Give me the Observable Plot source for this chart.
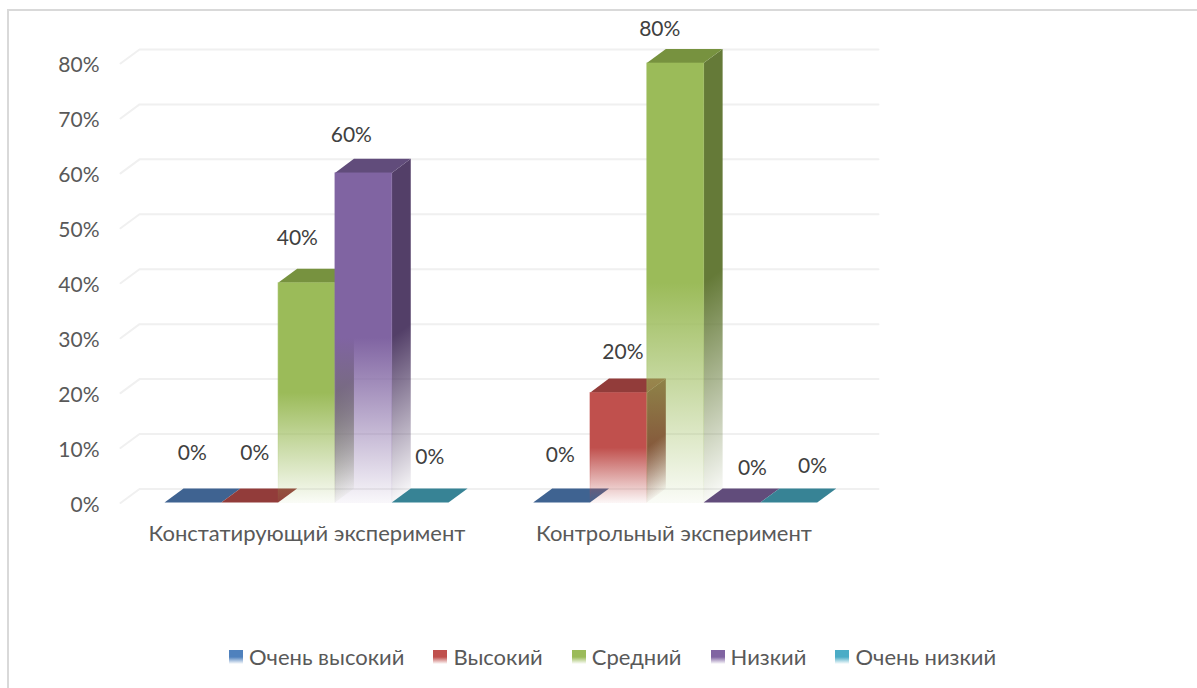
<!DOCTYPE html>
<html><head><meta charset="utf-8">
<script src="https://cdn.jsdelivr.net/npm/d3@7"></script>
<script src="https://cdn.jsdelivr.net/npm/@observablehq/plot@0.6"></script>
<style>
html,body{margin:0;padding:0;background:#fff;overflow:hidden}
#frame{position:absolute;left:7px;top:9px;width:1300px;height:800px;border:2px solid #d9d9d9;box-sizing:border-box;pointer-events:none}
#chart{position:absolute;left:0;top:0}
#legend{position:absolute;left:229px;top:644px;display:flex;font:22px Lato,"Open Sans",sans-serif;color:#595959;line-height:26px;white-space:nowrap}
#legend .item{display:flex;align-items:center}
#legend i{display:block;width:14px;height:14px;margin-right:6px}
</style></head><body>
<div id="chart"></div><div id="frame"></div><div id="legend"></div>
<script>
const categories = ["Констатирующий эксперимент", "Контрольный эксперимент"];
const levels = ["Очень высокий", "Высокий", "Средний", "Низкий", "Очень низкий"];
const constatingValues = [0, 0, 40, 60, 0];
const controlValues = [0, 20, 80, 0, 0];
const yTicks = [0, 10, 20, 30, 40, 50, 60, 70, 80];

const frontColors = ["#4F81BD", "#C0504D", "#9BBB59", "#8064A2", "#4BACC6"];
const topColors = ["#3F6391", "#923C3A", "#77923F", "#614C7B", "#378395"];
const sideColors = ["#34537A", "#7D3230", "#657A38", "#533F68", "#2E6E7E"];

// layout, in scale units: one x unit is one bar width, y units are percent
const groupStart = [0, 6.49];
const depthX = 0.335, depthY = 2.55;
const labelFont = "Lato, 'Open Sans', sans-serif";
const labelNudge = [
  [[-0.02, 9.0], [0.08, 9.0], [-0.17, 8.2], [-0.22, 6.95], [0.16, 8.3]],
  [[-0.03, 8.65], [0.07, 7.4], [-0.28, 6.2], [0.35, 6.3], [0.41, 6.65]]
];
const categoryNudge = [0, -0.03];

const bars = [];
[constatingValues, controlValues].forEach((vals, g) => vals.forEach((v, i) => bars.push({
  g, i, v, level: levels[i], x1: groupStart[g] + i, x2: groupStart[g] + i + 1,
  lx: groupStart[g] + i + 0.5 + labelNudge[g][i][0], ly: v + labelNudge[g][i][1]
})));

const sidePts = bars.filter(b => b.v > 0).flatMap(b => [
  {b, x: b.x2, y1: 0, y2: b.v}, {b, x: b.x2 + depthX, y1: depthY, y2: b.v + depthY}]);
const topPts = bars.flatMap(b => [
  {b, y: b.v, x1: b.x1, x2: b.x2}, {b, y: b.v + depthY, x1: b.x1 + depthX, x2: b.x2 + depthX}]);
const gridPts = yTicks.flatMap(t => [
  {t, x: -0.783, y: t}, {t, x: -0.783 + depthX, y: t + depthY}, {t, x: 12.56, y: t + depthY}]);

const stops = color => `<stop offset="0" stop-color="${color}"/><stop offset="0.5" stop-color="${color}"/>
    <stop offset="1" stop-color="${color}" stop-opacity="0.05"/>`;
function frontGradient(id, color) {
  return `<linearGradient id="${id}" x1="0" y1="0" x2="0" y2="1">${stops(color)}</linearGradient>`;
}
// the side face is sheared, so its fade follows the same shear
function sideGradient(id, color, v) {
  const s = depthY / (v + depthY), k = (1 - s) / (s * s + 1);
  return `<linearGradient id="${id}" x1="0" y1="${s}" x2="${k * s}" y2="${s + k}">${stops(color)}</linearGradient>`;
}
const defsMark = () => {
  const g = document.createElementNS("http://www.w3.org/2000/svg", "defs");
  g.innerHTML = levels.map((_, i) => frontGradient("front" + i, frontColors[i])).join("") +
    bars.filter(b => b.v > 0).map(b => sideGradient(`side${b.g}-${b.i}`, sideColors[b.i], b.v)).join("");
  return g;
};

const marks = [defsMark];
marks.push(Plot.line(gridPts, {x: "x", y: "y", z: "t", stroke: "#f0f0f0", strokeWidth: 2, curve: "linear"}));
marks.push(Plot.axisY({ticks: yTicks, tickSize: 0, tickPadding: 21, tickFormat: d => d + "%", label: null,
  fontSize: 21, fontFamily: labelFont, color: "#595959", dy: 2}));
bars.forEach(b => {
  const side = sidePts.filter(d => d.b === b), top = topPts.filter(d => d.b === b);
  if (side.length) marks.push(Plot.areaY(side, {x: "x", y1: "y1", y2: "y2", fill: `url(#side${b.g}-${b.i})`, curve: "linear"}));
  marks.push(Plot.areaX(top, {y: "y", x1: "x1", x2: "x2", fill: topColors[b.i], curve: "linear"}));
  if (b.v > 0) marks.push(Plot.rect([b], {x1: "x1", x2: "x2", y1: 0, y2: "v", fill: `url(#front${b.i})`, stroke: `url(#front${b.i})`, strokeWidth: 1, strokeOpacity: 0.6}));
});
marks.push(Plot.text(bars, {x: "lx", y: "ly", text: d => d.v + "%", fontSize: 21, fontFamily: labelFont, fill: "#404040"}));
marks.push(Plot.text(categories.map((c, g) => ({c, x: groupStart[g] + 2.5 + categoryNudge[g]})), {
  x: "x", y: 0, text: "c", dy: 31, fontSize: 22, fontFamily: labelFont, fill: "#595959"}));

const plot = Plot.plot({
  width: 1197, height: 688,
  marginLeft: 120, marginRight: 319, marginTop: 63, marginBottom: 185.5,
  x: {type: "linear", domain: [-0.783, 12.56], axis: null},
  y: {type: "linear", domain: [0, 80], axis: null},
  style: {background: "transparent", overflow: "visible"},
  marks
});
document.getElementById("chart").append(plot);

const legend = document.getElementById("legend");
levels.forEach((l, i) => {
  const it = document.createElement("div");
  it.className = "item";
  if (i) it.style.marginLeft = "29px";
  it.innerHTML = `<i style="background:linear-gradient(${frontColors[i]} 50%, #fff)"></i><span>${l}</span>`;
  legend.append(it);
});
</script></body></html>
